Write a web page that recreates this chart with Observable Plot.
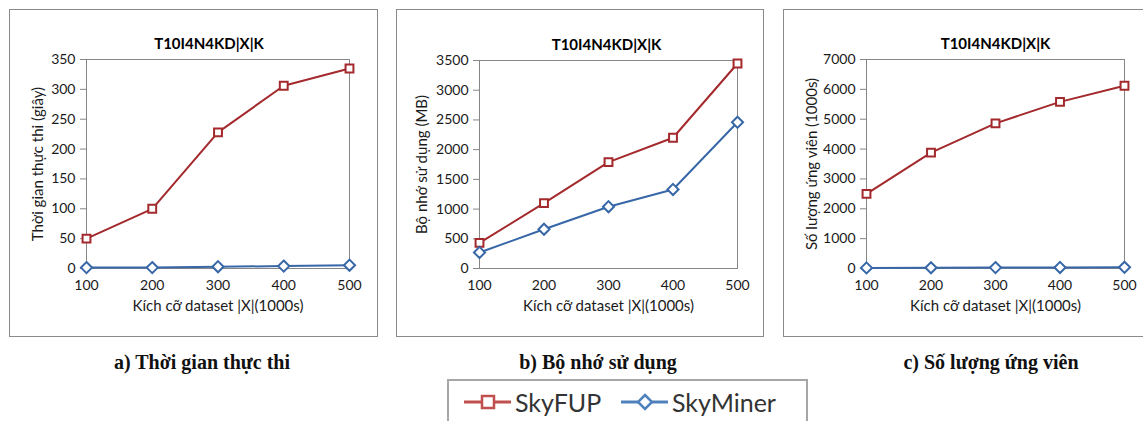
<!DOCTYPE html>
<html>
<head>
<meta charset="utf-8">
<script src="https://cdn.jsdelivr.net/npm/d3@7"></script>
<script src="https://cdn.jsdelivr.net/npm/@observablehq/plot@0.6"></script>
<style>
  html, body { margin: 0; padding: 0; background: #fff; }
  #page { position: relative; width: 1143px; height: 421px; overflow: hidden; background: #fff; }
  .panel { position: absolute; top: 9px; height: 328px; border: 1.5px solid #8a8a8a; box-sizing: border-box; }
  .plot { position: absolute; top: 9px; }
  .caption { position: absolute; top: 362px; transform: translate(-50%, -50%); font-family: "Liberation Serif", serif; font-weight: bold; font-size: 20px; color: #111; white-space: nowrap; }
  #legend { position: absolute; left: 447px; top: 379px; width: 361px; height: 60px; border: 2px solid #a6a6a6; box-sizing: border-box; font-family: Lato, "Open Sans", sans-serif; font-size: 25px; color: #333; }
  .item { position: absolute; top: 6px; display: flex; align-items: center; height: 30px; }
  .item svg { display: block; }
</style>
</head>
<body>
<div id="page"></div>
<script>
// ---- data ----
const sizes = [100, 200, 300, 400, 500];
const seriesNames = ["SkyFUP", "SkyMiner"];
const chartTitle = "T10I4N4KD|X|K";
const xLabel = "Kích cỡ dataset |X|(1000s)";

// a) execution time (seconds)
const timeSkyFUP = [50, 100, 228, 306, 335];
const timeSkyMiner = [1.5, 1.5, 3, 4, 5.5];
const timeTicks = [0, 50, 100, 150, 200, 250, 300, 350];

// b) memory used (MB)
const memSkyFUP = [430, 1100, 1790, 2200, 3450];
const memSkyMiner = [270, 660, 1040, 1330, 2460];
const memTicks = [0, 500, 1000, 1500, 2000, 2500, 3000, 3500];

// c) number of candidates (1000s)
const candSkyFUP = [2500, 3880, 4860, 5580, 6120];
const candSkyMiner = [20, 25, 30, 35, 40];
const candTicks = [0, 1000, 2000, 3000, 4000, 5000, 6000, 7000];

const captions = ["a) Thời gian thực thi", "b) Bộ nhớ sử dụng", "c) Số lượng ứng viên"];
const yLabels = ["Thời gian thực thi (giây)", "Bộ nhớ sử dụng (MB)", "Số lượng ứng viên (1000s)"];

const colors = {SkyFUP: "#A3292C", SkyMiner: "#3767A7"};
const symbols = {SkyFUP: "square2", SkyMiner: "diamond2"};
const legendColors = {SkyFUP: "#C0504D", SkyMiner: "#4F81BD"};

function rows(a, b) {
  const out = [];
  sizes.forEach((x, i) => out.push({series: seriesNames[0], x, y: a[i]}));
  sizes.forEach((x, i) => out.push({series: seriesNames[1], x, y: b[i]}));
  return out;
}

const panels = [
  {left: 9, width: 369, ml: 77, mr: 29, mt: 50, mb: 69, data: rows(timeSkyFUP, timeSkyMiner), ticks: timeTicks, ylab: yLabels[0], yDx: -48, titleDx: -9, cap: captions[0], capX: 202},
  {left: 396, width: 368, ml: 83, mr: 27, mt: 51, mb: 69, data: rows(memSkyFUP, memSkyMiner), ticks: memTicks, ylab: yLabels[1], yDx: -57, titleDx: -2, cap: captions[1], capX: 598},
  {left: 783, width: 400, ml: 83, mr: 59, mt: 50, mb: 69, data: rows(candSkyFUP, candSkyMiner), ticks: candTicks, ylab: yLabels[2], yDx: -54, titleDx: 0, cap: captions[2], capX: 991}
];

const page = document.getElementById("page");

for (const p of panels) {
  const box = document.createElement("div");
  box.className = "panel";
  box.style.left = p.left + "px";
  box.style.width = p.width + "px";
  page.appendChild(box);

  const chart = Plot.plot({
    width: p.width,
    height: 328,
    marginLeft: p.ml,
    marginRight: p.mr,
    marginTop: p.mt,
    marginBottom: p.mb,
    style: {fontFamily: "Lato, 'Open Sans', sans-serif", fontSize: "14px", color: "#1a1a1a", background: "transparent", overflow: "visible"},
    x: {domain: [100, 500]},
    y: {domain: [0, p.ticks[p.ticks.length - 1]]},
    color: {domain: seriesNames, range: seriesNames.map(s => colors[s])},
    marks: [
      Plot.frame({stroke: "#868686"}),
      Plot.axisY({ticks: p.ticks, tickSize: 6, tickPadding: 5, stroke: "#868686", fill: "#1a1a1a", fontSize: 14, tickFormat: d3.format("d"), label: null}),
      Plot.axisX({ticks: sizes, tickSize: 0, tickPadding: 12, fill: "#1a1a1a", fontSize: 14, tickFormat: d3.format("d"), label: null}),
      Plot.text([xLabel], {text: d => d, frameAnchor: "bottom", dy: 42, fontSize: 15, fill: "#1a1a1a"}),
      Plot.text([p.ylab], {text: d => d, frameAnchor: "left", textAnchor: "middle", dx: p.yDx, rotate: -90, fontSize: 15, fill: "#1a1a1a"}),
      Plot.line(p.data, {x: "x", y: "y", z: "series", stroke: "series", strokeWidth: 2}),
      Plot.dot(p.data, {x: "x", y: "y", stroke: "series", fill: "white", strokeWidth: 2, r: 5,
        symbol: d => symbols[d.series]}),
      Plot.text([chartTitle], {text: d => d, frameAnchor: "top", dy: -21, dx: p.titleDx, fontWeight: "bold", fontSize: 15, fill: "#000"})
    ],
    symbol: {domain: ["square2", "diamond2"], range: ["square2", "diamond2"]}
  });
  chart.classList.add("plot");
  chart.style.left = p.left + "px";
  page.appendChild(chart);

  const cap = document.createElement("div");
  cap.className = "caption";
  cap.style.left = p.capX + "px";
  cap.textContent = p.cap;
  page.appendChild(cap);
}

// legend
const legend = document.createElement("div");
legend.id = "legend";
const legendLeft = {SkyFUP: 14, SkyMiner: 171};
for (const s of seriesNames) {
  const item = document.createElement("div");
  item.className = "item";
  item.style.left = legendLeft[s] + "px";
  const ns = "http://www.w3.org/2000/svg";
  const svg = document.createElementNS(ns, "svg");
  svg.setAttribute("width", 50);
  svg.setAttribute("height", 30);
  const ln = document.createElementNS(ns, "line");
  ln.setAttribute("x1", 1); ln.setAttribute("x2", 48); ln.setAttribute("y1", 15); ln.setAttribute("y2", 15);
  ln.setAttribute("stroke", legendColors[s]); ln.setAttribute("stroke-width", 3);
  svg.appendChild(ln);
  const mk = document.createElementNS(ns, "path");
  mk.setAttribute("d", s === "SkyFUP" ? "M-6,-6H6V6H-6Z" : "M0,-7L7,0L0,7L-7,0Z");
  mk.setAttribute("transform", "translate(25,15)");
  mk.setAttribute("fill", "#fff");
  mk.setAttribute("stroke", legendColors[s]);
  mk.setAttribute("stroke-width", 2.5);
  svg.appendChild(mk);
  item.appendChild(svg);
  const t = document.createElement("span");
  t.textContent = s;
  t.style.marginLeft = "2px";
  item.appendChild(t);
  legend.appendChild(item);
}
page.appendChild(legend);
</script>
</body>
</html>
